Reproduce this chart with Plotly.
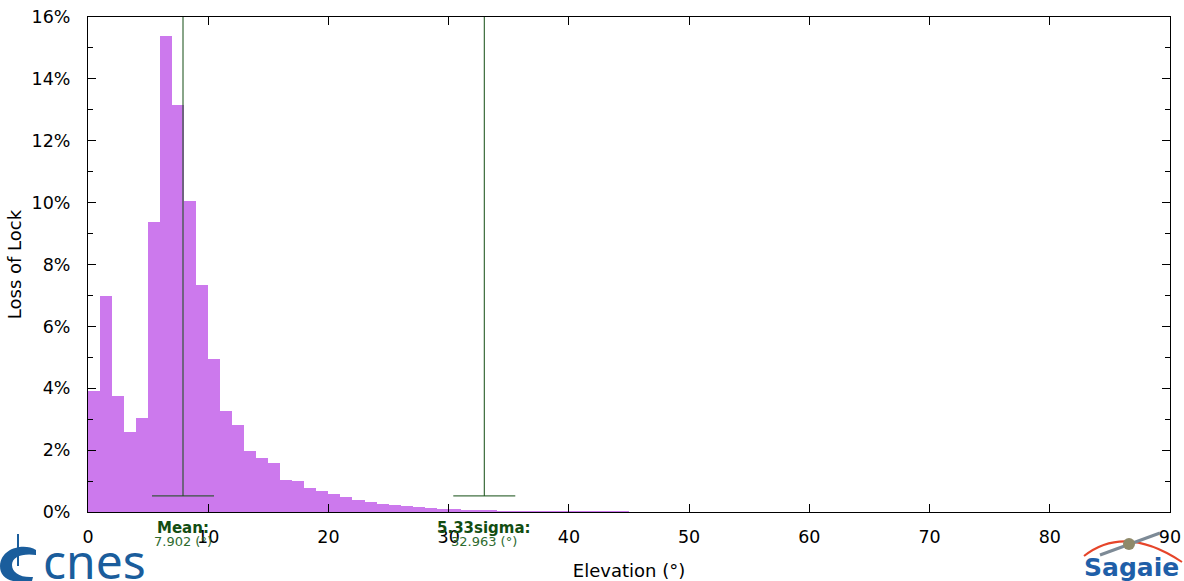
import plotly.graph_objects as go

# ---- data ----
bin_edges_left = list(range(0, 45))
bin_width = 1
loss_pct = [3.92, 6.97, 3.74, 2.60, 3.05, 9.38, 15.37, 13.16, 10.05, 7.35,
            4.94, 3.28, 2.80, 1.98, 1.73, 1.57, 1.02, 1.00, 0.77, 0.69,
            0.59, 0.47, 0.39, 0.31, 0.26, 0.22, 0.20, 0.17, 0.14, 0.11,
            0.09, 0.07, 0.06, 0.04, 0.03, 0.025, 0.02, 0.015, 0.01, 0.008,
            0.006, 0.005, 0.004, 0.003, 0.002]
x_ticks = [0, 10, 20, 30, 40, 50, 60, 70, 80, 90]
y_ticks = [0, 2, 4, 6, 8, 10, 12, 14, 16]
y_tick_text = ["0%", "2%", "4%", "6%", "8%", "10%", "12%", "14%", "16%"]
mean_val = 7.902
sigma_val = 32.963
marker_labels = [("Mean:", mean_val), ("5.33sigma:", sigma_val)]

BAR = "rgb(204,121,237)"
GREEN = "#124d12"
FONT = "DejaVu Sans"
BLUE = "#1a5d9c"

x_centers = [b + bin_width / 2 for b in bin_edges_left]

fig = go.Figure()
fig.add_trace(go.Bar(x=x_centers, y=loss_pct, width=bin_width,
                     marker=dict(color=BAR, line=dict(width=0)),
                     hoverinfo="x+y", showlegend=False))

shapes = []
annotations = []
bar_y = 0.52
for label, val in marker_labels:
    shapes.append(dict(type="line", xref="x", yref="y", x0=val, x1=val,
                       y0=bar_y, y1=16, line=dict(color=GREEN, width=1)))
    shapes.append(dict(type="line", xref="x", yref="y", xsizemode="pixel",
                       xanchor=val, x0=-31, x1=31, y0=bar_y, y1=bar_y,
                       line=dict(color=GREEN, width=1)))
    annotations.append(dict(x=val, xref="x", y=0, yref="paper", yanchor="middle",
                            yshift=-16, text="<b>%s</b>" % label, showarrow=False,
                            font=dict(family=FONT, size=15, color=GREEN)))
    annotations.append(dict(x=val, xref="x", y=0, yref="paper", yanchor="middle",
                            yshift=-29, text="%.3f (°)" % val, showarrow=False,
                            font=dict(family=FONT, size=13, color="#2e6b2e")))


def px_path(points_cmds):
    """points given in page pixels (px, py) relative to plot origin (88, 512)."""
    out = []
    for cmd, pts in points_cmds:
        coords = " ".join("%g %g" % (px - 88, 512 - py) for px, py in pts)
        out.append("%s %s" % (cmd, coords) if pts else cmd)
    return " ".join(out)


# cnes logo
annotations.append(dict(x=0, xref="paper", xshift=-47, y=0, yref="paper",
                        yshift=-48, xanchor="left", yanchor="middle",
                        text="cnes", showarrow=False,
                        font=dict(family="Noto Sans", size=48, color=BLUE)))
crescent = px_path([
    ("M", [(36, 550)]),
    ("C", [(25, 543), (1, 547), (0, 566)]),
    ("C", [(0, 579), (12, 584), (32, 581)]),
    ("L", [(33, 577)]),
    ("C", [(20, 578), (12, 572), (12, 565)]),
    ("C", [(12, 557), (22, 553), (36, 555)]),
    ("Z", []),
])
shapes.append(dict(type="path", xref="paper", yref="paper",
                   xsizemode="pixel", ysizemode="pixel", xanchor=0, yanchor=0,
                   path=crescent, fillcolor=BLUE, line=dict(width=0)))
shapes.append(dict(type="line", xref="paper", yref="paper",
                   xsizemode="pixel", ysizemode="pixel", xanchor=0, yanchor=0,
                   x0=18 - 88, x1=18 - 88, y0=512 - 534, y1=512 - 566,
                   line=dict(color=BLUE, width=2)))

# Sagaie logo
annotations.append(dict(x=0, xref="paper", xshift=1131 - 88, y=0, yref="paper",
                        yshift=-(567 - 512), xanchor="center", yanchor="middle",
                        text="<b>Sagaie</b>", showarrow=False,
                        font=dict(family="DejaVu Sans", size=25, color="#1f5fa8")))
shapes.append(dict(type="path", xref="paper", yref="paper",
                   xsizemode="pixel", ysizemode="pixel", xanchor=0, yanchor=0,
                   path=px_path([("M", [(1084, 556)]), ("Q", [(1125, 524), (1182, 562)])]),
                   line=dict(color="#e6452a", width=2)))
shapes.append(dict(type="line", xref="paper", yref="paper",
                   xsizemode="pixel", ysizemode="pixel", xanchor=0, yanchor=0,
                   x0=1100 - 88, x1=1160 - 88, y0=512 - 555, y1=512 - 533,
                   line=dict(color="#7d8a96", width=3)))
shapes.append(dict(type="circle", xref="paper", yref="paper",
                   xsizemode="pixel", ysizemode="pixel", xanchor=0, yanchor=0,
                   x0=1123 - 88, x1=1135 - 88, y0=512 - 550, y1=512 - 538,
                   fillcolor="#8f8a6a", line=dict(width=0)))

axis_common = dict(showline=True, linecolor="black", linewidth=1, mirror="allticks",
                   ticks="inside", tickcolor="black", ticklen=8, tickwidth=1,
                   showgrid=False, zeroline=False, automargin=False,
                   tickfont=dict(family=FONT, size=17.5, color="black"))

fig.update_layout(
    width=1184, height=581,
    margin=dict(l=88, r=14, t=17, b=69),
    paper_bgcolor="white", plot_bgcolor="white",
    bargap=0,
    xaxis=dict(range=[0, 90], tickmode="array", tickvals=x_ticks, ticklabelstandoff=9,
               title=dict(text="Elevation (°)", font=dict(family=FONT, size=18, color="black"),
                          standoff=25),
               **axis_common),
    yaxis=dict(range=[0, 16], tickmode="array", tickvals=y_ticks, ticktext=y_tick_text,
               ticklabelstandoff=13,
               minor=dict(tickvals=[1, 3, 5, 7, 9, 11, 13, 15], ticks="inside",
                          ticklen=5, tickcolor="black"),
               title=dict(text="Loss of Lock", font=dict(family=FONT, size=18, color="black"),
                          standoff=5),
               **axis_common),
    shapes=shapes,
    annotations=annotations,
)

fig.write_html("out.html", config={"displayModeBar": False},
               post_script="document.body.style.margin='0px';document.body.style.overflow='hidden';")
